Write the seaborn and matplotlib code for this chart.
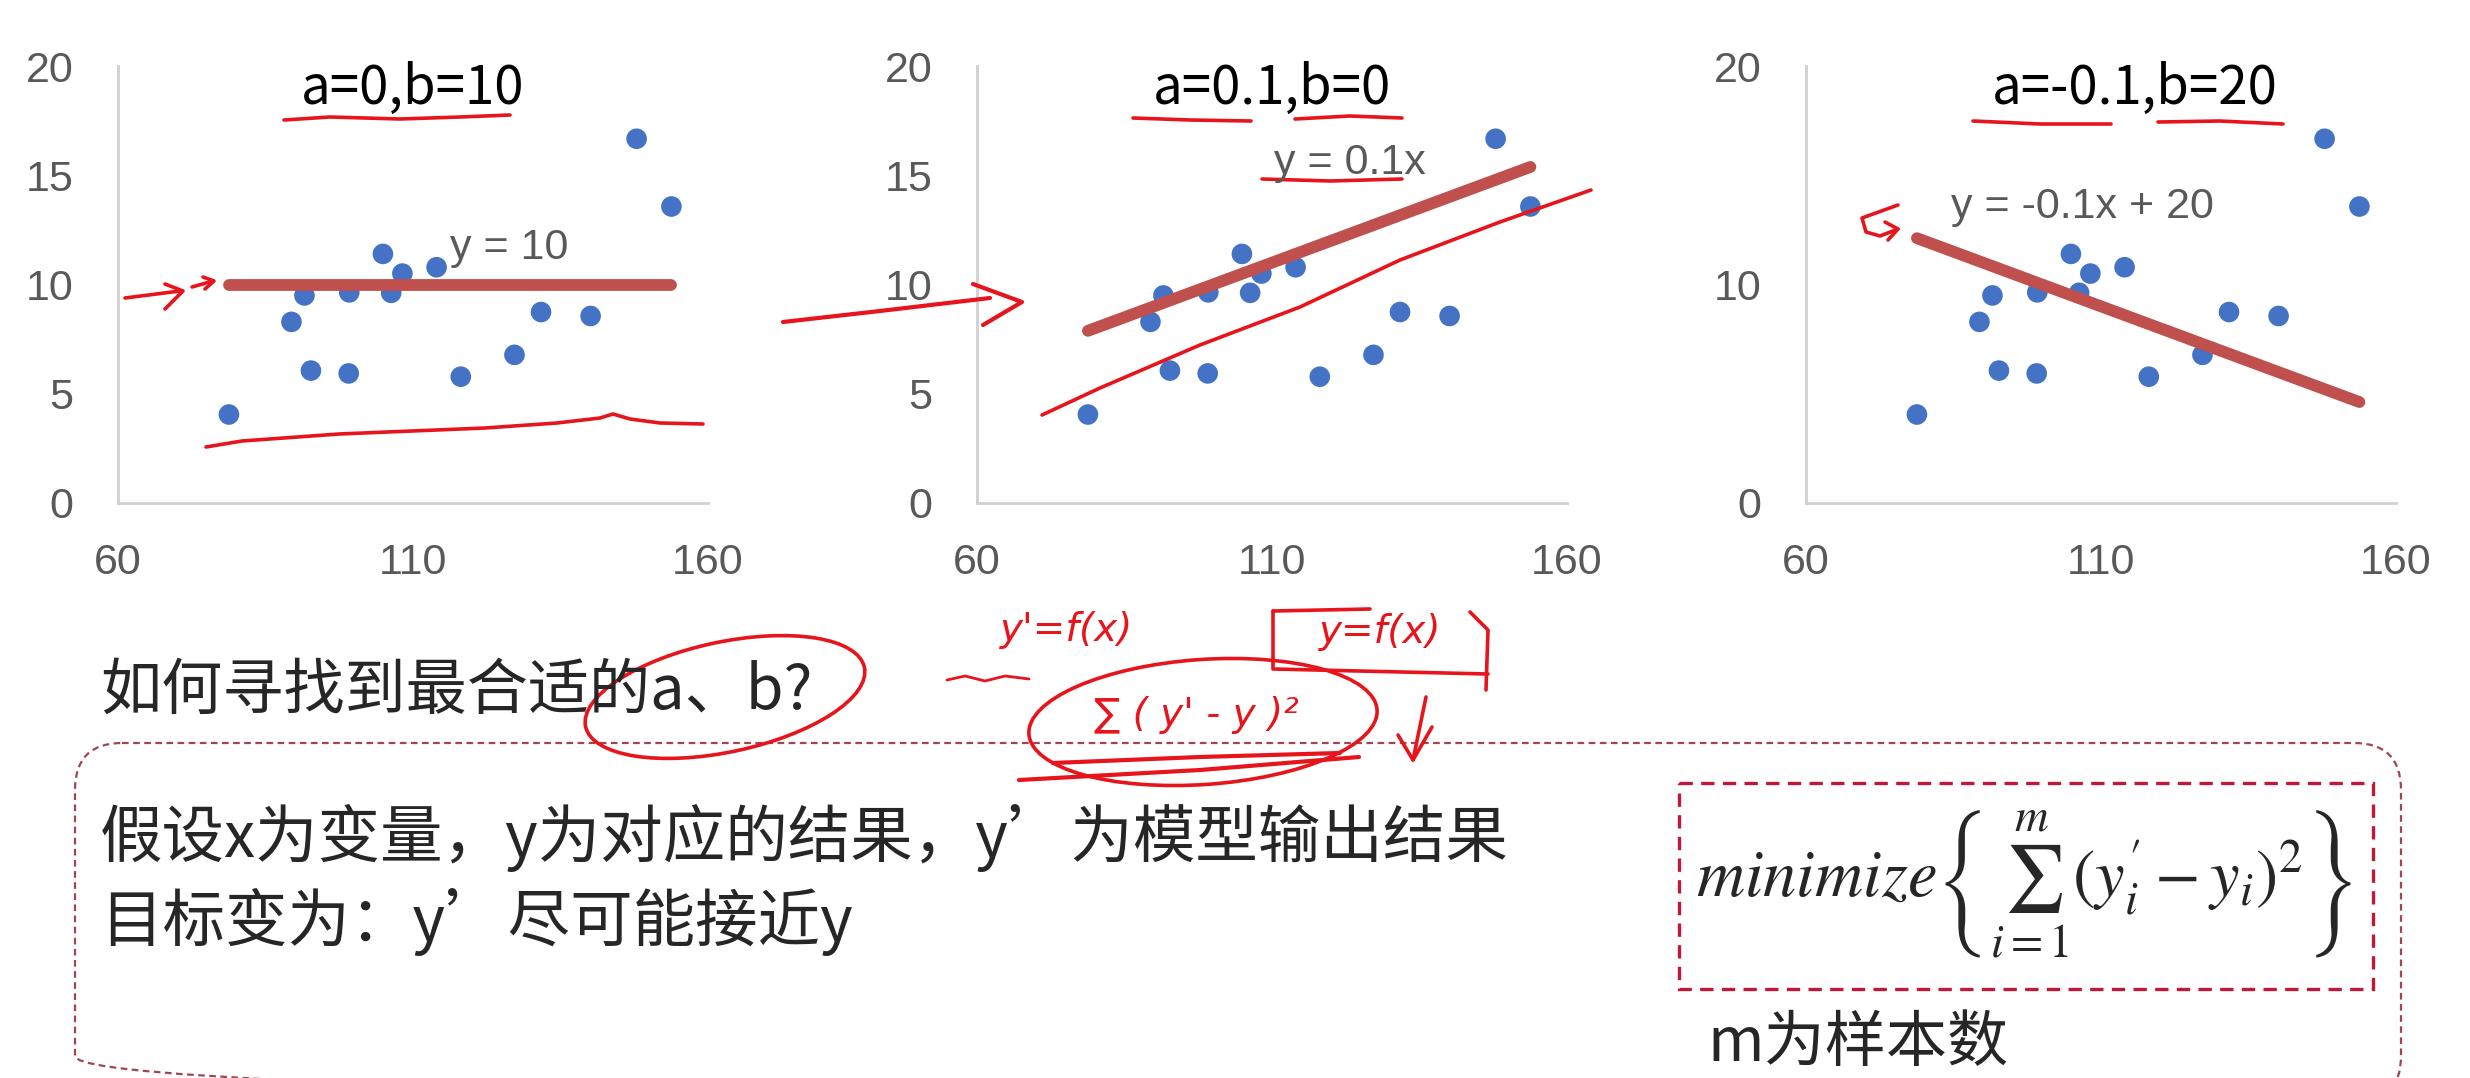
import numpy as np
import matplotlib
matplotlib.use("Agg")
import matplotlib.pyplot as plt
import seaborn as sns
from matplotlib.patches import FancyBboxPatch, Rectangle, Ellipse

# sample points (same in all three panels)
x_vals = [78.8, 89.4, 91.6, 92.7, 99.2, 99.1, 104.9, 106.3, 108.2, 114.0,
          118.1, 127.2, 131.7, 140.1, 147.9, 153.8]
y_vals = [4.05, 8.29, 9.5, 6.06, 9.64, 5.93, 11.4, 9.62, 10.5, 10.79,
          5.78, 6.78, 8.74, 8.56, 16.67, 13.57]

# candidate lines y = a*x + b
a_vals = [0, 0.1, -0.1]
b_vals = [10, 0, 20]
titles = ["a=0,b=10", "a=0.1,b=0", "a=-0.1,b=20"]
eq_labels = ["y = 10", "y = 0.1x", "y = -0.1x + 20"]
y_ticks = [[0, 5, 10, 15, 20], [0, 5, 10, 15, 20], [0, 10, 20]]
x_ticks = [60, 110, 160]

question = "如何寻找到最合适的a、b?"
line1 = "假设x为变量，y为对应的结果，y’为模型输出结果"
line2 = "目标变为：y’尽可能接近y"
formula = r"$minimize\left\{\sum_{i=1}^{m}(y_i^{\prime}-y_i)^2\right\}$"
note = "m为样本数"

sns.set_theme(style="white")
plt.rcParams["font.family"] = ["Liberation Sans", "Noto Sans CJK SC", "DejaVu Sans"]
plt.rcParams["mathtext.fontset"] = "stix"

W, H = 2470, 1078
fig = plt.figure(figsize=(W / 100, H / 100), dpi=100)
fig.patch.set_facecolor("white")

BLUE = "#4472C4"
LINE_RED = "#C0504D"
INK = "#E8141B"
GREY = "#595959"

panel_left = [118, 977, 1806]
panel_w = 590
top_px, bottom_px = 66, 503

for i in range(3):
    ax = fig.add_axes([panel_left[i] / W, 1 - bottom_px / H,
                       panel_w / W, (bottom_px - top_px) / H])
    sns.scatterplot(x=x_vals, y=y_vals, s=220, color=BLUE, edgecolor="none",
                    ax=ax, zorder=3)
    xs = np.array([min(x_vals), max(x_vals)])
    sns.lineplot(x=xs, y=a_vals[i] * xs + b_vals[i], color=LINE_RED,
                 linewidth=8.5, solid_capstyle="round", ax=ax, zorder=4)
    ax.set_xlim(60, 160)
    ax.set_ylim(0, 20)
    ax.set_xticks(x_ticks)
    ax.set_yticks(y_ticks[i])
    ax.tick_params(axis="both", length=0, labelsize=31, colors=GREY)
    ax.tick_params(axis="y", pad=32)
    ax.tick_params(axis="x", pad=29)
    for side in ["top", "right"]:
        ax.spines[side].set_visible(False)
    for side in ["left", "bottom"]:
        ax.spines[side].set_color("#D0D0D0")
        ax.spines[side].set_linewidth(2)
    ax.set_facecolor("none")

# overlay in pixel coordinates for the slide text and pen marks
ov = fig.add_axes([0, 0, 1, 1], zorder=10)
ov.set_xlim(0, W)
ov.set_ylim(H, 0)
ov.axis("off")

title_x = [413, 1272, 2135]
eq_pos = [(509, 248), (1350, 163), (2082, 207)]
for i in range(3):
    ov.text(title_x[i], 88, titles[i], fontsize=38, color="black",
            ha="center", va="center", family=["Noto Sans CJK SC", "DejaVu Sans"])
    ov.text(eq_pos[i][0], eq_pos[i][1], eq_labels[i], fontsize=31, color=GREY,
            ha="center", va="center")

cjk = ["Noto Sans CJK SC", "DejaVu Sans"]
ov.text(100, 692, question, fontsize=44, ha="left", va="center", family=cjk)
ov.text(100, 838, line1, fontsize=45, ha="left", va="center", family=cjk)
ov.text(100, 922, line2, fontsize=45, ha="left", va="center", family=cjk)
ov.text(2024, 885, formula, fontsize=48, ha="center", va="center")
ov.text(1707, 1044, note, fontsize=44, ha="left", va="center", family=cjk)

# dashed frames
ov.add_patch(FancyBboxPatch((75, 743), 2326, 360,
                            boxstyle="round,pad=0,rounding_size=47",
                            fill=False, edgecolor="#A04652", linewidth=1.6,
                            linestyle=(0, (3, 2))))
ov.add_patch(Rectangle((1679, 783), 694, 206, fill=False,
                       edgecolor="#C0183A", linewidth=2.4,
                       linestyle=(0, (4, 2.5))))


def pen(pts, lw=2.6):
    p = np.array(pts, dtype=float)
    ov.plot(p[:, 0], p[:, 1], color=INK, linewidth=lw,
            solid_capstyle="round", solid_joinstyle="round")


# panel 1 marks
pen([(284, 120), (330, 117), (400, 119), (460, 117), (510, 115)])
pen([(125, 298), (180, 291)])
pen([(165, 284), (183, 291), (165, 309)])
pen([(192, 287), (213, 281)])
pen([(203, 277), (214, 281), (205, 289)])
pen([(206, 447), (242, 441), (339, 434), (485, 428), (557, 423),
     (600, 418), (613, 414), (630, 419), (660, 423), (703, 424)])

# panel 2 marks
pen([(1133, 118), (1190, 120), (1251, 121)])
pen([(1295, 119), (1350, 116), (1402, 118)])
pen([(1262, 179), (1330, 181), (1402, 179)])
pen([(783, 322), (880, 311), (990, 298)], lw=3)
pen([(973, 284), (1022, 302), (983, 325)], lw=3)
pen([(1042, 415), (1100, 388), (1200, 345), (1300, 307), (1400, 260),
     (1500, 222), (1591, 190)])

# panel 3 marks
pen([(1973, 121), (2040, 124), (2111, 124)])
pen([(2158, 122), (2220, 121), (2283, 124)])
pen([(1898, 205), (1862, 218), (1866, 232), (1880, 236), (1898, 229)])
pen([(1885, 222), (1898, 229), (1888, 240)])

# pen notes around the question
ov.add_patch(Ellipse((725, 697), 285, 110, angle=-12, fill=False,
                     edgecolor=INK, linewidth=2.6))
ov.text(1067, 630, "y'=f(x)", fontsize=28, color=INK, ha="center",
        va="center", style="italic", family="DejaVu Sans")
pen([(947, 680), (965, 676), (985, 681), (1005, 676), (1029, 679)], lw=2)
ov.text(1380, 632, "y=f(x)", fontsize=28, color=INK, ha="center",
        va="center", style="italic", family="DejaVu Sans")
pen([(1273, 611), (1273, 669), (1488, 674)])
pen([(1273, 611), (1370, 609)])
pen([(1470, 612), (1488, 630), (1486, 690)])
ov.text(1196, 715, "∑ ( y' - y )²", fontsize=28, color=INK, ha="center",
        va="center", style="italic", family="DejaVu Sans")
ov.add_patch(Ellipse((1203, 722), 349, 125, angle=-4, fill=False,
                     edgecolor=INK, linewidth=2.6))
pen([(1019, 780), (1200, 770), (1359, 757)], lw=3)
pen([(1053, 763), (1200, 757), (1340, 753)], lw=3)
pen([(1426, 697), (1413, 760)])
pen([(1398, 735), (1413, 760), (1432, 727)])

fig.savefig("out.png", dpi=100, facecolor="white")
